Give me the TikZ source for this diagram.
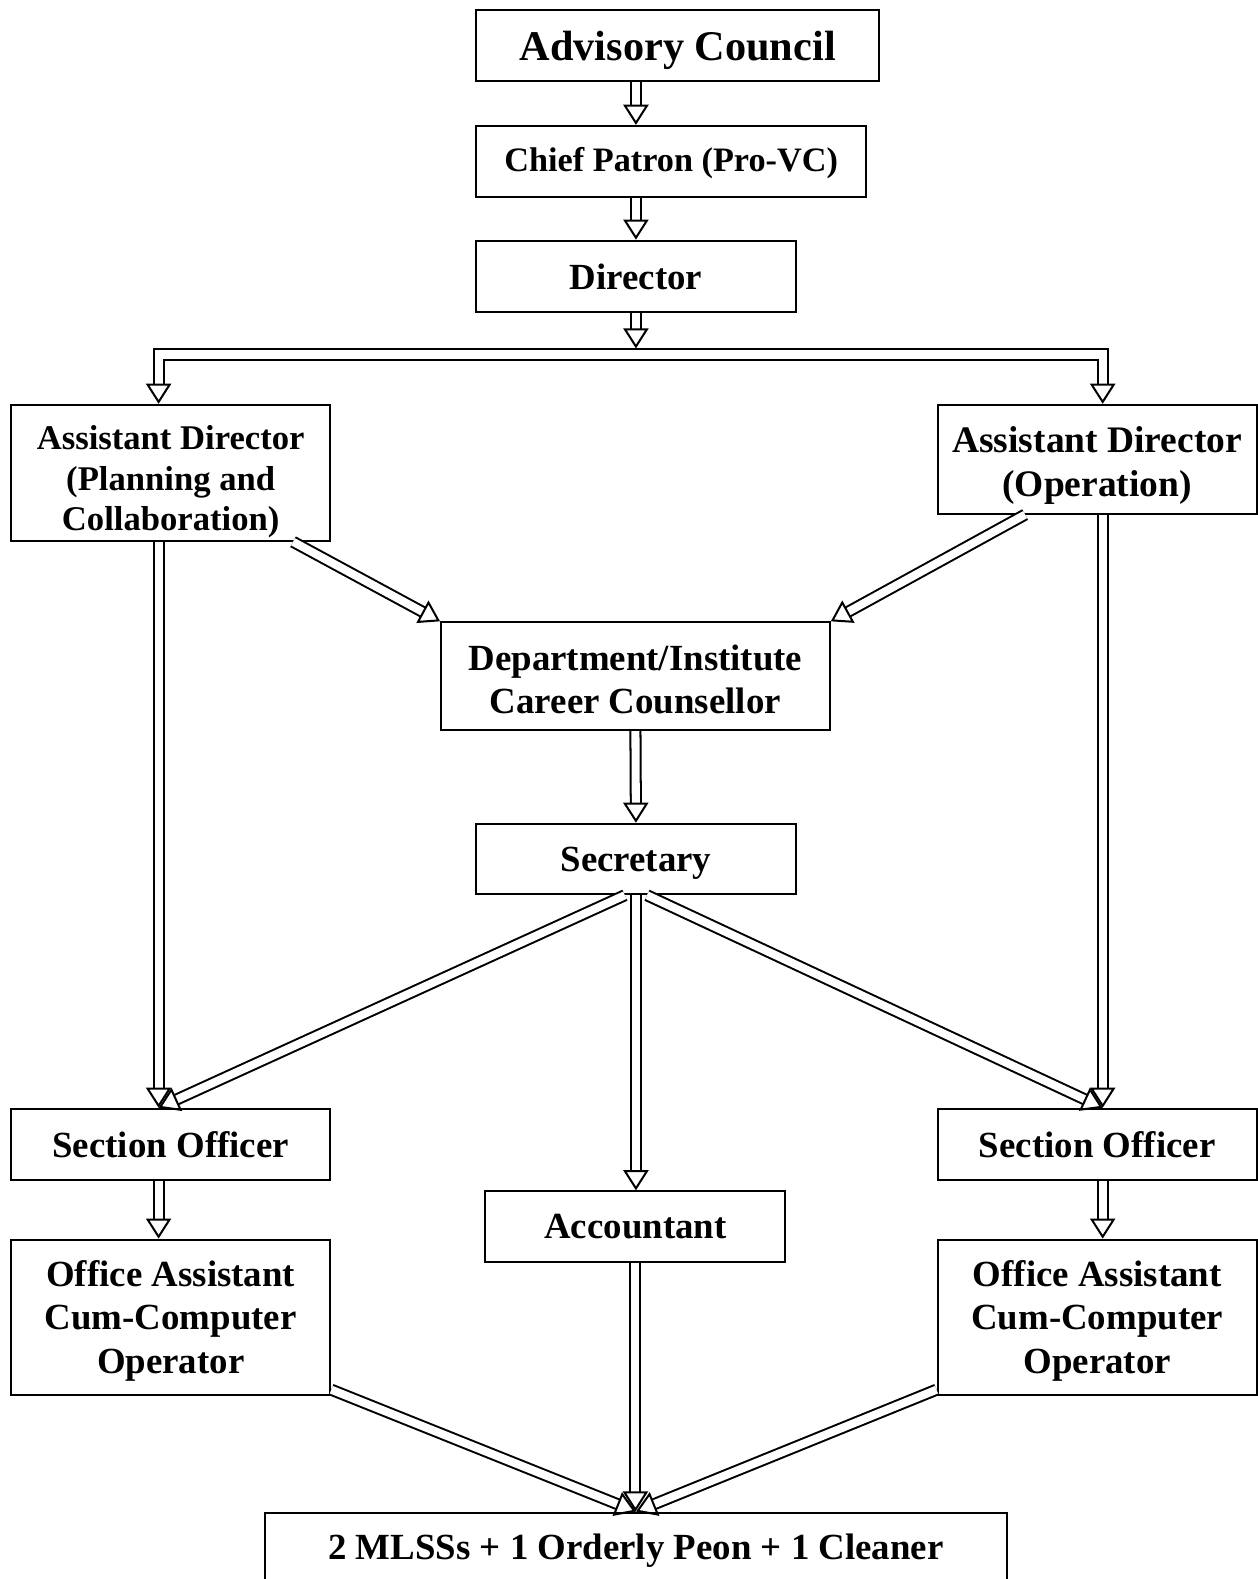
\documentclass[tikz,border=0pt]{standalone}
\usepackage{fontspec}
\setmainfont{Liberation Serif}
\usetikzlibrary{arrows.meta, calc}
\newcommand{\topstrut}[1]{\rule{0pt}{#1}}

\begin{document}
\begin{tikzpicture}[x=0.5pt, y=-0.5pt, line width=1pt,
  box/.style={draw, align=center, inner sep=0pt, minimum width=158.5pt, minimum height=35.5pt,
    font=\fontsize{18.3}{21.5}\selectfont\bfseries},
  dtip/.tip={Triangle[open, length=10pt, width=12.5pt, line width=1pt]},
  dbl/.style={double, double distance=4pt, -{dtip}},
  dblboth/.style={double, double distance=4pt, {dtip}-{dtip}}]
\useasboundingbox (0,0) rectangle (1249,1568);
%
\node[box, minimum width=200pt, minimum height=35pt, font=\fontsize{21}{24}\selectfont\bfseries] (ac) at (673,45) {\topstrut{19.3pt}Advisory Council};
\node[box, minimum width=193.5pt, font=\fontsize{17}{20}\selectfont\bfseries] (cp) at (666.5,160.5) {\topstrut{13.5pt}Chief Patron (Pro-VC)};
\node[box] (dir) at (631.5,274.5) {Director};
\coordinate (bar) at (631.5,352);
\node[box, minimum height=67.5pt, font=\fontsize{17.2}{20}\selectfont\bfseries] (apd) at (169.5,469.5) {\topstrut{21pt}Assistant Director\\(Planning and\\Collaboration)};
\node[box, minimum height=54pt, font=\fontsize{18.6}{22}\selectfont\bfseries] (aop) at (1089.5,456) {\topstrut{19pt}Assistant Director\\(Operation)};
\node[box, minimum width=193pt, minimum height=53.5pt] (dept) at (631,671.5) {\topstrut{16pt}Department/Institute\\Career Counsellor};
\node[box, minimum height=35pt] (sec) at (631.5,853) {\topstrut{16.5pt}Secretary};
\node[box] (sol) at (169.5,1136.5) {Section Officer};
\node[box] (sor) at (1089.5,1136.5) {Section Officer};
\node[box, minimum width=149pt, minimum height=35pt] (acc) at (631,1218) {Accountant};
\node[box, minimum height=77pt] (oal) at (169.5,1308) {\topstrut{16.5pt}Office Assistant\\Cum-Computer\\Operator};
\node[box, minimum height=77pt] (oar) at (1089.5,1308) {\topstrut{16.5pt}Office Assistant\\Cum-Computer\\Operator};
\node[box, minimum width=368.5pt, minimum height=38pt] (staff) at (631.5,1540) {2 MLSSs + 1 Orderly Peon + 1 Cleaner};
%
\draw[dbl] (dir |- ac.south) -- (dir |- cp.north);
\draw[dbl] (dir |- cp.south) -- (dir.north);
\draw[dbl] (dir.south) -- ($(bar)+(0,-6)$);
\draw[dblboth] ($(apd.north)+(-12,0)$) |- (bar) -| ($(aop.north)+(5.5,0)$);
%
\draw[dbl] ($(apd.south east)+(-38,0)$) -- (dept.north west);
\draw[dbl] ($(aop.south west)+(88,0)$) -- (dept.north east);
\draw[dbl] (dept.south) -- (sec.north);
\draw[dbl] ($(apd.south)+(-12,0)$) -- ($(sol.north)+(-12,0)$);
\draw[dbl] ($(aop.south)+(5.5,0)$) -- ($(sor.north)+(5.5,0)$);
\draw[dbl] ($(sec.south)+(-11,0)$) -- ($(sol.north)+(-12,0)$);
\draw[dbl] ($(sec.south)+(11,0)$) -- ($(sor.north)+(5.5,0)$);
\draw[dbl] (sec.south) -- (sec.south |- acc.north);
%
\draw[dbl] ($(sol.south)+(-12,0)$) -- ($(oal.north)+(-12,0)$);
\draw[dbl] ($(sor.south)+(5.5,0)$) -- ($(oar.north)+(5.5,0)$);
\draw[dbl] ($(oal.south east)+(0,-6)$) -- (staff.north);
\draw[dbl] (acc.south) -- (acc.south |- staff.north);
\draw[dbl] ($(oar.south west)+(0,-6)$) -- (staff.north);
\end{tikzpicture}
\end{document}
